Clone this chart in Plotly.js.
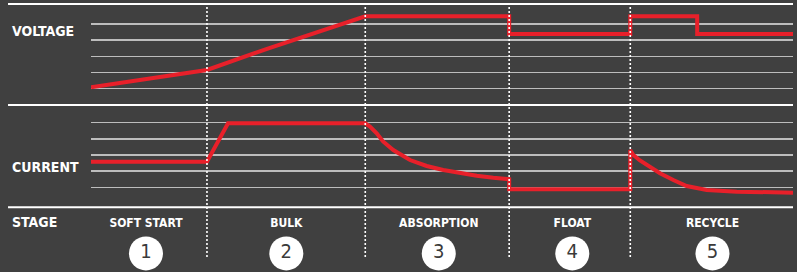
<!DOCTYPE html>
<html>
<head>
<meta charset="utf-8">
<script src="https://cdn.plot.ly/plotly-3.0.1.min.js"></script>
<style>
  html, body { margin: 0; padding: 0; background: #404040; }
  #chart { width: 797px; height: 272px; }
</style>
</head>
<body>
<div id="chart"></div>
<script>
// ---- data (time in arbitrary units 0..100, levels in grid steps) ----
var voltageT = [0, 6.03, 12.68, 16.52, 25.5, 39.07, 59.57, 59.57, 76.82, 76.82, 86.35, 86.35, 100];
var voltageV = [0.09, 0.48, 0.91, 1.16, 2.53, 4.48, 4.48, 3.38, 3.38, 4.48, 4.48, 3.38, 3.38];

var currentT = [0, 16.52, 19.52, 39.07, 39.74, 40.7, 41.6, 43.06, 45.44, 47.82, 50.18, 52.56, 54.94, 57.31, 59.57, 59.57,
                76.82, 76.82, 77.25, 78.2, 79.16, 81.05, 82.95, 84.85, 87.7, 91.97, 100];
var currentI = [1.58, 1.58, 3.96, 3.96, 3.76, 3.34, 2.84, 2.31, 1.69, 1.32, 1.07, 0.87, 0.72, 0.59, 0.50, -0.12,
                -0.12, 2.31, 2.0, 1.66, 1.38, 0.87, 0.45, 0.08, -0.17, -0.27, -0.33];

var stageBounds = [16.52, 39.07, 59.57, 76.82];
var stageCenters = [7.83, 27.82, 49.54, 68.56, 88.53];
var stageNames = ['SOFT START', 'BULK', 'ABSORPTION', 'FLOAT', 'RECYCLE'];
var stageNumbers = ['1', '2', '3', '4', '5'];
var gridLevels = [0, 1, 2, 3, 4];
var rowLabels = ['VOLTAGE', 'CURRENT', 'STAGE'];

// ---- styling ----
var FONT = '"Liberation Sans Narrow", "DejaVu Sans Condensed", "Arial Narrow", sans-serif';
var RED = '#e8202a';
var GRID = '#bdbdbd';

var traces = [
  { x: voltageT, y: voltageV, xaxis: 'x', yaxis: 'y', mode: 'lines',
    line: { color: RED, width: 4, shape: 'linear' }, hoverinfo: 'skip' },
  { x: currentT, y: currentI, xaxis: 'x', yaxis: 'y2', mode: 'lines',
    line: { color: RED, width: 4, shape: 'linear' }, hoverinfo: 'skip' },
  { x: stageCenters, y: stageCenters.map(function(){ return 0.75; }), xaxis: 'x', yaxis: 'y3',
    mode: 'text', text: stageNames, textposition: 'middle center', cliponaxis: false,
    textfont: { family: FONT, size: 12, color: '#ffffff', weight: 'bold' }, hoverinfo: 'skip' },
  { x: stageCenters, y: stageCenters.map(function(){ return 0.29; }), xaxis: 'x', yaxis: 'y3',
    mode: 'markers+text', text: stageNumbers, textposition: 'middle center', cliponaxis: false,
    marker: { size: 34, color: '#ffffff', line: { width: 0 } },
    textfont: { family: FONT, size: 20, color: '#3a3a3a' }, hoverinfo: 'skip' }
];

var shapes = [];
[0.9853, 0.614, 0.2379].forEach(function(yy){
  shapes.push({ type: 'line', xref: 'paper', yref: 'paper', x0: -0.1182, x1: 1.0, y0: yy, y1: yy,
    line: { color: '#ffffff', width: 2 } });
});
stageBounds.forEach(function(b){
  shapes.push({ type: 'line', xref: 'x', yref: 'paper', x0: b, x1: b, y0: 0.055, y1: 0.978,
    line: { color: '#ffffff', width: 1.6, dash: '2px,2px' } });
});

var labelY = [0.886, 0.387, 0.185];
var annotations = rowLabels.map(function(t, i){
  return { text: t, xref: 'paper', yref: 'paper', x: -0.1154, y: labelY[i], xanchor: 'left', yanchor: 'middle',
    showarrow: false, font: { family: FONT, size: 14, color: '#ffffff', weight: 'bold' } };
});

var axisCommon = { showticklabels: false, ticks: '', zeroline: false, showline: false, fixedrange: true };

var layout = {
  width: 797, height: 272,
  margin: { l: 91, r: 4, t: 0, b: 0, pad: 0 },
  paper_bgcolor: '#404040', plot_bgcolor: '#404040',
  showlegend: false, hovermode: false,
  xaxis: Object.assign({}, axisCommon, { range: [0, 100], showgrid: false, domain: [0, 1] }),
  yaxis: Object.assign({}, axisCommon, { range: [-1, 5.4], domain: [0.61443, 0.99504],
    tickvals: gridLevels, showgrid: true, gridcolor: GRID, gridwidth: 1.5 }),
  yaxis2: Object.assign({}, axisCommon, { range: [-1, 5], domain: [0.25202, 0.60827],
    tickvals: gridLevels, showgrid: true, gridcolor: GRID, gridwidth: 1.5 }),
  yaxis3: Object.assign({}, axisCommon, { range: [0, 1], domain: [0, 0.236], showgrid: false }),
  shapes: shapes,
  annotations: annotations
};

Plotly.newPlot('chart', traces, layout, { staticPlot: true, displayModeBar: false });
</script>
</body>
</html>
